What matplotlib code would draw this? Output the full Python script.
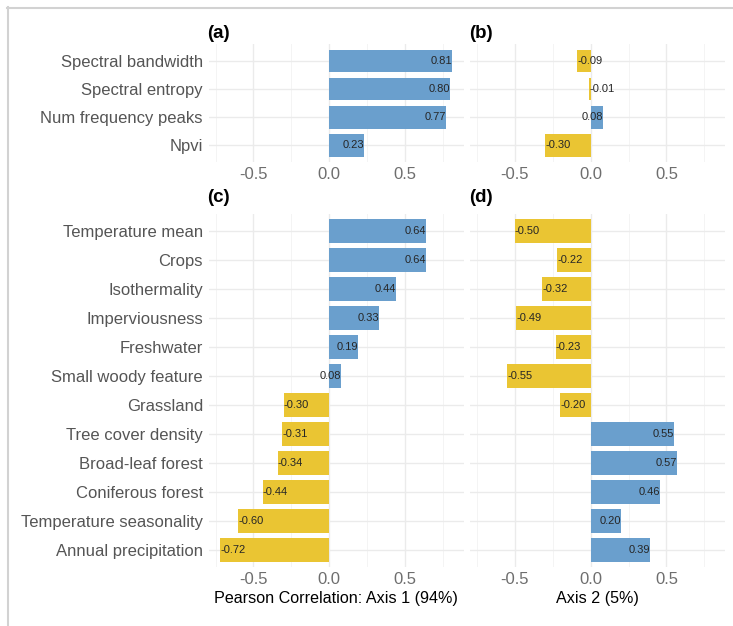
import matplotlib
matplotlib.use("Agg")
import matplotlib.pyplot as plt
from matplotlib.lines import Line2D

plt.rcParams['font.family'] = ['Liberation Sans', 'DejaVu Sans']
plt.rcParams['axes.unicode_minus'] = False

# ---- data ----
acoustic = ["Spectral bandwidth", "Spectral entropy", "Num frequency peaks", "Npvi"]
acoustic_axis1 = [0.81, 0.80, 0.77, 0.23]
acoustic_axis2 = [-0.09, -0.01, 0.08, -0.30]

env = ["Temperature mean", "Crops", "Isothermality", "Imperviousness", "Freshwater",
       "Small woody feature", "Grassland", "Tree cover density", "Broad-leaf forest",
       "Coniferous forest", "Temperature seasonality", "Annual precipitation"]
env_axis1 = [0.64, 0.64, 0.44, 0.33, 0.19, 0.08, -0.30, -0.31, -0.34, -0.44, -0.60, -0.72]
env_axis2 = [-0.50, -0.22, -0.32, -0.49, -0.23, -0.55, -0.20, 0.55, 0.57, 0.46, 0.20, 0.39]

xticks = [-0.5, 0.0, 0.5]
xtick_labels = ["-0.5", "0.0", "0.5"]
panel_tags = ["(a)", "(b)", "(c)", "(d)"]
xlabel_1 = "Pearson Correlation: Axis 1 (94%)"
xlabel_2 = "Axis 2 (5%)"

BLUE = "#6A9FCD"
YELLOW = "#EAC533"

W, H = 733, 626
fig = plt.figure(figsize=(W / 100, H / 100), dpi=100)


def px_axes(left, right, top, bottom):
    return fig.add_axes([left / W, 1 - bottom / H, (right - left) / W, (bottom - top) / H])


def draw_panel(ax, cats, vals, show_ylabels):
    n = len(cats)
    ax.set_xlim(-0.7965, 0.8865)
    ax.set_ylim(n - 1 + 0.6, -0.6)
    for s in ax.spines.values():
        s.set_visible(False)
    # grid
    for xv in [-0.75, -0.25, 0.25, 0.75]:
        ax.axvline(xv, color="#F2F2F2", lw=0.6, zorder=0)
    for xv in xticks:
        ax.axvline(xv, color="#EBEBEB", lw=1.0, zorder=0)
    for i in range(n):
        ax.axhline(i, color="#EBEBEB", lw=1.0, zorder=0)
    ys = list(range(n))
    colors = [BLUE if v > 0 else YELLOW for v in vals]
    ax.barh(ys, vals, height=0.8, color=colors, zorder=2)
    for y, v in zip(ys, vals):
        ax.text(v, y, f"{v:.2f}", ha="right" if v > 0 else "left", va="center",
                fontsize=8, color="#262626", zorder=3)
    ax.set_xticks(xticks)
    ax.set_xticklabels(xtick_labels)
    ax.tick_params(axis="x", length=0, labelsize=12, labelcolor="#6E6E6E", pad=3)
    ax.set_yticks(ys)
    if show_ylabels:
        ax.set_yticklabels(cats)
    else:
        ax.set_yticklabels([])
    ax.tick_params(axis="y", length=0, labelsize=12, labelcolor="#555555", pad=4)


axA = px_axes(208.5, 463.5, 44, 162.4)
axB = px_axes(470, 725, 44, 162.4)
axC = px_axes(208.5, 463.5, 213.6, 567.4)
axD = px_axes(470, 725, 213.6, 567.4)

draw_panel(axA, acoustic, acoustic_axis1, True)
draw_panel(axB, acoustic, acoustic_axis2, False)
draw_panel(axC, env, env_axis1, True)
draw_panel(axD, env, env_axis2, False)

axC.set_xlabel(xlabel_1, fontsize=11.6, color="black", labelpad=3)
axD.set_xlabel(xlabel_2, fontsize=11.6, color="black", labelpad=3)

for tag, (x, y) in zip(panel_tags, [(207, 33), (469, 33), (207, 197), (469, 197)]):
    fig.text(x / W, 1 - y / H, tag, fontsize=13.5, fontweight="bold", ha="left", va="center")

# outer frame lines (top and left)
fig.add_artist(Line2D([7 / W, 1], [1 - 7.5 / H, 1 - 7.5 / H], transform=fig.transFigure,
                      color="#D2D2D2", lw=1.5))
fig.add_artist(Line2D([7.5 / W, 7.5 / W], [0, 1 - 7 / H], transform=fig.transFigure,
                      color="#D2D2D2", lw=1.5))

fig.savefig("out.png", dpi=100)
